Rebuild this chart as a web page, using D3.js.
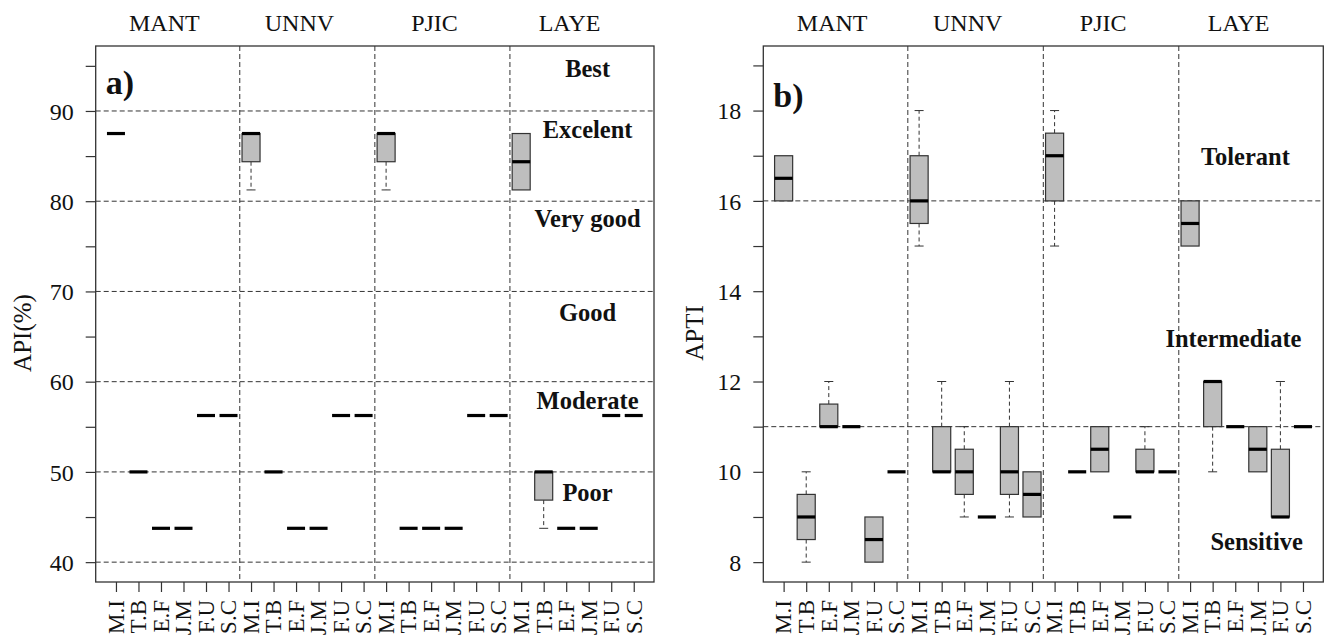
<!DOCTYPE html>
<html>
<head>
<meta charset="utf-8">
<script src="https://cdn.jsdelivr.net/npm/d3@7"></script>
<style>
body { margin: 0; background: #fff; }
svg text { font-family: "Liberation Serif", "Times New Roman", "DejaVu Serif", serif; fill: #111; }
</style>
</head>
<body>
<svg width="1325" height="638" font-family="Liberation Serif, Times New Roman, serif"></svg>
<script>
var svg = d3.select("svg");

var sites = ["MANT", "UNNV", "PJIC", "LAYE"];
var species = ["M.I", "T.B", "E.F", "J.M", "F.U", "S.C"];

// API (%) box stats, 24 boxes in order site x species
var apiLow = [87.5, 50, 43.75, 43.75, 56.25, 56.25,
              81.25, 50, 43.75, 43.75, 56.25, 56.25,
              81.25, 43.75, 43.75, 43.75, 56.25, 56.25,
              81.25, 43.75, 43.75, 43.75, 56.25, 56.25];
var apiQ1 = [87.5, 50, 43.75, 43.75, 56.25, 56.25,
             84.375, 50, 43.75, 43.75, 56.25, 56.25,
             84.375, 43.75, 43.75, 43.75, 56.25, 56.25,
             81.25, 46.875, 43.75, 43.75, 56.25, 56.25];
var apiMed = [87.5, 50, 43.75, 43.75, 56.25, 56.25,
              87.5, 50, 43.75, 43.75, 56.25, 56.25,
              87.5, 43.75, 43.75, 43.75, 56.25, 56.25,
              84.375, 50, 43.75, 43.75, 56.25, 56.25];
var apiQ3 = [87.5, 50, 43.75, 43.75, 56.25, 56.25,
             87.5, 50, 43.75, 43.75, 56.25, 56.25,
             87.5, 43.75, 43.75, 43.75, 56.25, 56.25,
             87.5, 50, 43.75, 43.75, 56.25, 56.25];
var apiHigh = [87.5, 50, 43.75, 43.75, 56.25, 56.25,
               87.5, 50, 43.75, 43.75, 56.25, 56.25,
               87.5, 43.75, 43.75, 43.75, 56.25, 56.25,
               87.5, 50, 43.75, 43.75, 56.25, 56.25];
var apiTicks = [40, 50, 60, 70, 80, 90];
var apiMinorTicks = [40, 45, 50, 55, 60, 65, 70, 75, 80, 85, 90, 95];
var apiLimits = [40, 50, 60, 70, 80, 90];
var apiClasses = ["Best", "Excelent", "Very good", "Good", "Moderate", "Poor"];
var apiClassY = [94.7, 87.9, 78.1, 67.7, 57.9, 47.7];
var apiClassX = [21.95, 21.95, 21.95, 21.95, 21.95, 21.95];

// APTI box stats
var aptiLow = [16, 8, 11, 11, 8, 10,
               15, 10, 9, 9, 9, 9,
               15, 10, 10, 9, 10, 10,
               15, 10, 11, 10, 9, 11];
var aptiQ1 = [16, 8.5, 11, 11, 8, 10,
              15.5, 10, 9.5, 9, 9.5, 9,
              16, 10, 10, 9, 10, 10,
              15, 11, 11, 10, 9, 11];
var aptiMed = [16.5, 9, 11, 11, 8.5, 10,
               16, 10, 10, 9, 10, 9.5,
               17, 10, 10.5, 9, 10, 10,
               15.5, 12, 11, 10.5, 9, 11];
var aptiQ3 = [17, 9.5, 11.5, 11, 9, 10,
              17, 11, 10.5, 9, 11, 10,
              17.5, 10, 11, 9, 10.5, 10,
              16, 12, 11, 11, 10.5, 11];
var aptiHigh = [17, 10, 12, 11, 9, 10,
                18, 12, 11, 9, 12, 10,
                18, 10, 11, 9, 11, 10,
                16, 12, 11, 11, 12, 11];
var aptiTicks = [8, 10, 12, 14, 16, 18];
var aptiMinorTicks = [8, 9, 10, 11, 12, 13, 14, 15, 16, 17, 18, 19];
var aptiLimits = [11, 16];
var aptiClasses = ["Tolerant", "Intermediate", "Sensitive"];
var aptiClassY = [16.98, 12.95, 8.46];
var aptiClassX = [21.45, 20.92, 21.95];

var serif = "Liberation Serif, Times New Roman, serif";

function boxData(low, q1, med, q3, high) {
  return low.map(function(d, i) {
    return { pos: i + 1, label: species[i % species.length],
             low: d, q1: q1[i], med: med[i], q3: q3[i], high: high[i] };
  });
}

function drawPanel(p) {
  var x = d3.scaleLinear().domain([0.1, 24.9]).range([p.left, p.right]);
  var y = d3.scaleLinear().domain(p.yDomain).range([p.bottom, p.top]);
  var g = svg.append("g").attr("font-family", serif);
  var ink = "#333";

  // dashed class limits
  g.selectAll("line.limit")
    .data(p.limits)
    .enter().append("line")
    .attr("x1", p.left).attr("x2", p.right)
    .attr("y1", function(d) { return y(d); })
    .attr("y2", function(d) { return y(d); })
    .attr("stroke", ink).attr("stroke-dasharray", "5,3");

  // site separators
  g.selectAll("line.sep")
    .data([6.5, 12.5, 18.5])
    .enter().append("line")
    .attr("x1", function(d) { return x(d); })
    .attr("x2", function(d) { return x(d); })
    .attr("y1", p.top).attr("y2", p.bottom)
    .attr("stroke", ink).attr("stroke-dasharray", "5,3");

  var boxes = boxData(p.low, p.q1, p.med, p.q3, p.high);
  var bw = x(0.8) - x(0);
  var cw = x(0.4) - x(0);

  var b = g.selectAll("g.box")
    .data(boxes)
    .enter().append("g");

  // whiskers (only where they stick out of the box)
  b.filter(function(d) { return d.high > d.q3; }).each(function(d) {
    var s = d3.select(this);
    s.append("line")
      .attr("x1", x(d.pos)).attr("x2", x(d.pos))
      .attr("y1", y(d.q3)).attr("y2", y(d.high))
      .attr("stroke", ink).attr("stroke-dasharray", "4,3");
    s.append("line")
      .attr("x1", x(d.pos) - cw / 2).attr("x2", x(d.pos) + cw / 2)
      .attr("y1", y(d.high)).attr("y2", y(d.high))
      .attr("stroke", ink);
  });
  b.filter(function(d) { return d.low < d.q1; }).each(function(d) {
    var s = d3.select(this);
    s.append("line")
      .attr("x1", x(d.pos)).attr("x2", x(d.pos))
      .attr("y1", y(d.q1)).attr("y2", y(d.low))
      .attr("stroke", ink).attr("stroke-dasharray", "4,3");
    s.append("line")
      .attr("x1", x(d.pos) - cw / 2).attr("x2", x(d.pos) + cw / 2)
      .attr("y1", y(d.low)).attr("y2", y(d.low))
      .attr("stroke", ink);
  });

  b.filter(function(d) { return d.q3 > d.q1; })
    .append("rect")
    .attr("x", function(d) { return x(d.pos) - bw / 2; })
    .attr("width", bw)
    .attr("y", function(d) { return y(d.q3); })
    .attr("height", function(d) { return y(d.q1) - y(d.q3); })
    .attr("fill", "#bebebe")
    .attr("stroke", ink)
    .attr("stroke-width", 1.2);

  b.append("line")
    .attr("x1", function(d) { return x(d.pos) - bw / 2; })
    .attr("x2", function(d) { return x(d.pos) + bw / 2; })
    .attr("y1", function(d) { return y(d.med); })
    .attr("y2", function(d) { return y(d.med); })
    .attr("stroke", "#000")
    .attr("stroke-width", 3.2);

  // frame
  g.append("rect")
    .attr("x", p.left).attr("y", p.top)
    .attr("width", p.right - p.left).attr("height", p.bottom - p.top)
    .attr("fill", "none").attr("stroke", ink).attr("stroke-width", 1.3);

  // y axis
  var ya = g.append("g")
    .attr("transform", "translate(" + p.left + ",0)")
    .call(d3.axisLeft(y).tickValues(p.minorTicks).tickSize(10).tickFormat(""));
  ya.select(".domain").remove();
  ya.selectAll("line").attr("stroke", ink).attr("stroke-width", 1.2);

  g.selectAll("text.ytick")
    .data(p.ticks)
    .enter().append("text")
    .attr("x", p.left - 22)
    .attr("y", function(d) { return y(d); })
    .attr("dy", "0.36em")
    .attr("text-anchor", "end")
    .attr("font-size", 24)
    .text(function(d) { return d; });

  // x axis
  var xa = g.append("g")
    .attr("transform", "translate(0," + p.bottom + ")")
    .call(d3.axisBottom(x).tickValues(d3.range(1, 25)).tickSize(10).tickFormat(""));
  xa.select(".domain").remove();
  xa.selectAll("line").attr("stroke", ink).attr("stroke-width", 1.2);

  g.selectAll("text.xtick")
    .data(boxes)
    .enter().append("text")
    .attr("transform", function(d) { return "translate(" + x(d.pos) + "," + (p.bottom + 18) + ") rotate(-90)"; })
    .attr("dy", "0.34em")
    .attr("text-anchor", "end")
    .attr("font-size", 23)
    .text(function(d) { return d.label; });

  // site names above the frame
  g.selectAll("text.site")
    .data(sites)
    .enter().append("text")
    .attr("x", function(d, i) { return x(i * 6 + 3.5 - 0.35); })
    .attr("y", p.top - 15)
    .attr("text-anchor", "middle")
    .attr("font-size", 24)
    .text(function(d) { return d; });

  // class names
  g.selectAll("text.cls")
    .data(p.classes)
    .enter().append("text")
    .attr("x", function(d, i) { return x(p.classX[i]); })
    .attr("y", function(d, i) { return y(p.classY[i]); })
    .attr("dy", "0.35em")
    .attr("text-anchor", "middle")
    .attr("font-size", 24.5)
    .attr("font-weight", "bold")
    .text(function(d) { return d; });

  // panel letter
  g.append("text")
    .attr("x", p.left + 10)
    .attr("y", p.top + p.letterDy)
    .attr("font-size", 34)
    .attr("font-weight", "bold")
    .text(p.letter);

  // y title
  g.append("text")
    .attr("transform", "translate(" + p.titleX + ",333) rotate(-90)")
    .attr("dy", "0.35em")
    .attr("text-anchor", "middle")
    .attr("font-size", 25)
    .text(p.title);
}

drawPanel({
  left: 95.7, right: 654, top: 46, bottom: 582,
  yDomain: [37.8, 97.2],
  low: apiLow, q1: apiQ1, med: apiMed, q3: apiQ3, high: apiHigh,
  ticks: apiTicks, minorTicks: apiMinorTicks, limits: apiLimits,
  classes: apiClasses, classX: apiClassX, classY: apiClassY,
  letter: "a)", letterDy: 48, title: "API(%)", titleX: 22
});

drawPanel({
  left: 763.3, right: 1323.3, top: 46, bottom: 582,
  yDomain: [7.56, 19.43],
  low: aptiLow, q1: aptiQ1, med: aptiMed, q3: aptiQ3, high: aptiHigh,
  ticks: aptiTicks, minorTicks: aptiMinorTicks, limits: aptiLimits,
  classes: aptiClasses, classX: aptiClassX, classY: aptiClassY,
  letter: "b)", letterDy: 61, title: "APTI", titleX: 694
});
</script>
</body>
</html>
